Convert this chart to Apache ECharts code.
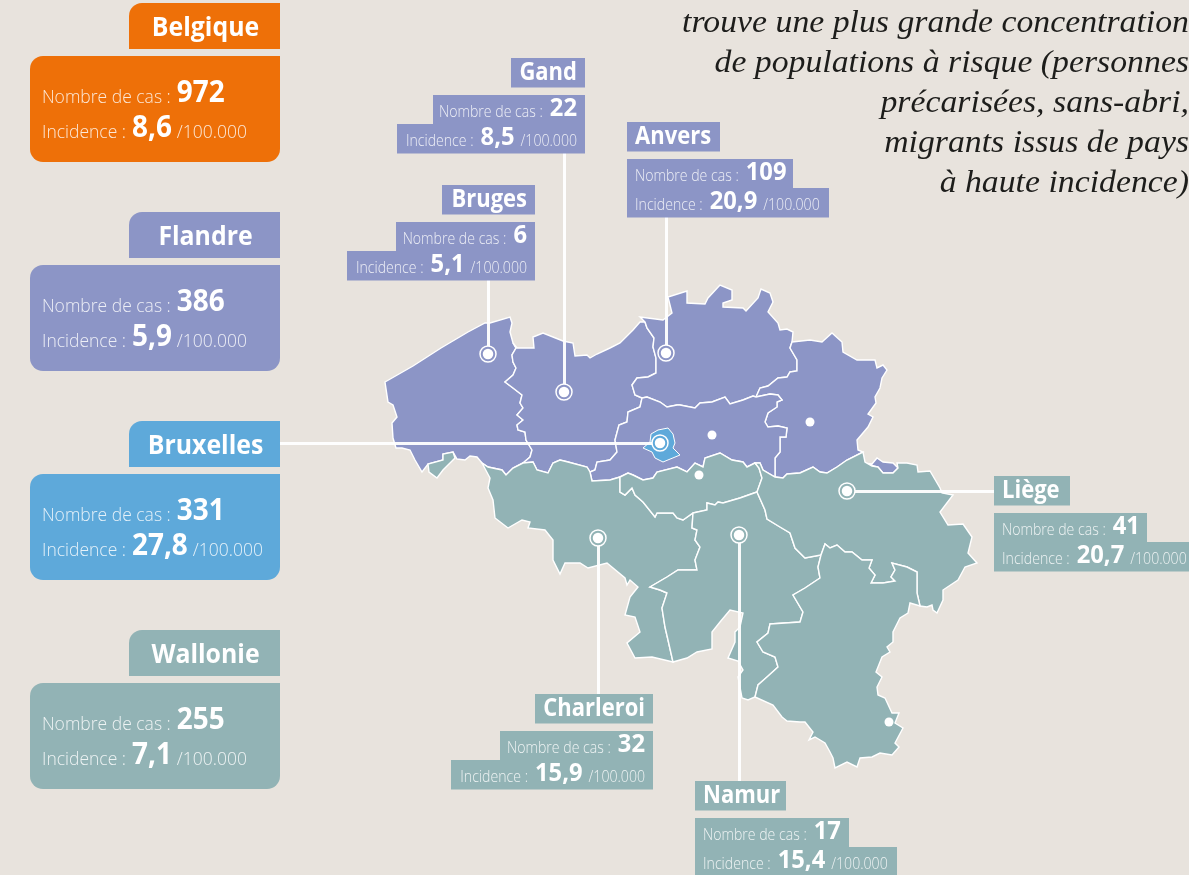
<!DOCTYPE html>
<html>
<head>
<meta charset="utf-8">
<title>Belgique - cas et incidence</title>
<script src="https://cdn.jsdelivr.net/npm/echarts@6/dist/echarts.min.js"></script>
<style>
html,body{margin:0;padding:0;background:#e8e3dd;overflow:hidden}
#chart{width:1189px;height:875px}
</style>
</head>
<body>
<div id="chart"></div>
<script>
// chiffres des encadres
var regionCards = ['Belgique','Flandre','Bruxelles','Wallonie'];
var regionCases = ['972','386','331','255'];
var regionIncidence = ['8,6','5,9','27,8','7,1'];
var cityCards = ['Gand','Bruges','Anvers','Liège','Charleroi','Namur'];
var cityCases = ['22','6','109','41','32','17'];
var cityIncidence = ['8,5','5,1','20,9','20,7','15,9','15,4'];
var introLines = ['trouve une plus grande concentration','de populations à risque (personnes','précarisées, sans-abri,','migrants issus de pays','à haute incidence)'];

// villes sur la carte
var ringCities = [['Bruges',488,354],['Gand',564,392],['Anvers',666,353],['Bruxelles',660,443],['Charleroi',598,538],['Namur',739,535],['Liège',847,491]];
var dotCities = [['Louvain',712,435],['Hasselt',810,422],['Wavre',699,475],['Arlon',889,722]];
// filets : ville -> encadre
var leaderEnds = [[488,280],[564,153],[666,217],[280,443],[598,694],[739,781],[994,491]];

// frontieres (repere de la carte)
var wfCoast = [[385,382],[413,366],[441,348],[468,332],[485,323],[490,323],[510,317],[512,323]];
var wfZeeland = [[512,323],[510,332],[513,343]];
var wfEf = [[513,343],[516,348],[512,355],[513,362],[516,368],[513,375],[505,382],[513,388],[522,395],[520,403],[523,408],[517,415],[523,420],[517,425],[518,430],[525,432],[526,440],[532,450],[530,457],[523,463]];
var wfHai = [[523,463],[513,468],[506,475],[502,470],[488,467],[482,463]];
var wfSouth = [[482,463],[477,457],[470,456],[465,460],[457,459],[453,452],[443,454],[443,460],[428,464],[422,472],[415,460],[410,450],[402,448],[396,448],[393,438],[392,423],[397,417],[393,405],[388,402],[385,382]];
var comines = [[428,464],[429,472],[437,478],[443,470],[450,463],[455,458],[453,452],[443,454],[443,460]];
var efNorth = [[513,343],[517,348],[534,348],[533,337],[543,333],[553,337],[563,341],[573,343],[575,356],[587,355],[590,358],[597,354],[610,348],[620,343],[633,330],[640,322],[645,322]];
var efAnt = [[645,322],[647,328],[654,338],[653,347],[656,358],[656,373],[648,377],[637,378],[632,385],[635,395],[642,398]];
var efFb = [[642,398],[640,407],[628,412],[627,422],[619,425],[615,440],[617,452],[610,460],[597,462],[595,470],[590,472]];
var efHai = [[590,472],[587,467],[568,462],[560,460],[553,463],[548,473],[537,470],[533,462],[523,463]];
var fbHai = [[590,472],[592,481],[610,480],[620,477]];
var fbWb = [[620,477],[628,473],[633,475],[643,480],[653,478],[657,472],[677,467],[687,472],[695,463],[703,467],[705,458],[720,453],[732,460],[743,462],[747,467],[755,463]];
var fbLiege = [[755,463],[760,463],[763,470],[775,477]];
var fbLim = [[775,477],[775,458],[780,452],[780,437],[786,437],[787,428],[778,426],[768,427],[765,422],[768,413],[777,407],[777,402],[782,400],[778,395],[770,394],[756,397]];
var fbAnt = [[756,397],[753,396],[743,400],[730,404],[725,397],[712,402],[700,403],[695,408],[680,405],[677,405],[667,407],[660,402],[647,397],[642,398]];
var antNorth = [[645,322],[640,317],[663,320],[672,313],[668,297],[687,291],[687,303],[705,304],[708,298],[720,285],[732,290],[732,300],[723,303],[723,307],[743,308],[746,311],[758,298],[761,289],[770,293],[773,302],[768,312],[778,323],[780,330],[787,329],[793,332],[792,342]];
var antLim = [[792,342],[790,348],[797,360],[797,371],[790,372],[787,377],[778,378],[768,386],[760,388],[756,397]];
var limNorth = [[792,342],[810,340],[822,342],[832,333],[842,342],[843,352],[857,360],[875,360],[877,368],[883,365],[887,370],[882,378],[880,388],[875,397],[876,403],[868,414],[873,417],[868,427],[857,440],[858,450],[863,452]];
var limLiege = [[863,452],[847,460],[837,467],[827,473],[820,472],[813,467],[800,473],[787,474],[783,478],[775,477]];
var voeren = [[863,463],[872,464],[877,458],[883,462],[893,463],[898,468],[893,473],[883,473],[878,467]];
var brussels = [[643,448],[650,442],[651,434],[658,430],[668,428],[673,434],[675,443],[673,448],[680,455],[663,462],[655,458],[652,452]];
var haiWest = [[482,463],[490,478],[488,488],[493,500],[495,518],[508,528],[522,520],[530,522],[528,528],[545,530],[553,540],[553,560],[560,574],[565,563],[580,563],[588,568],[607,563],[625,578],[627,585],[630,580],[638,587],[630,597],[625,615],[635,617],[640,632],[627,643],[635,658],[652,657],[673,662]];
var haiNam = [[673,662],[668,640],[665,627],[662,608],[667,593],[660,590],[650,587],[667,577],[678,570],[697,570],[695,560],[700,547],[695,540],[697,530],[692,528],[693,513]];
var haiWb = [[693,513],[683,520],[677,518],[673,513],[657,513],[655,517],[643,502],[635,495],[632,488],[625,495],[620,492],[620,477]];
var wbLiege = [[755,463],[759,468],[762,478],[757,492]];
var wbNam = [[693,513],[707,510],[707,503],[715,505],[718,502],[723,503],[740,498],[757,492]];
var namLiege = [[757,492],[765,510],[767,519],[780,527],[790,533],[795,548],[805,558],[821,555]];
var namLux = [[821,555],[818,567],[820,578],[805,588],[793,595],[803,612],[800,622],[770,624],[768,633],[757,642],[763,652],[775,657],[778,667],[767,677],[758,685],[755,697]];
var namSouth = [[755,697],[748,700],[742,698],[738,677],[743,670],[738,661],[728,658],[735,642],[735,632],[740,627],[743,613],[730,610],[720,622],[712,632],[712,649],[697,652],[687,658],[673,662]];
var luxLiege = [[821,555],[825,544],[830,548],[837,545],[845,552],[852,552],[862,560],[872,560],[869,568],[875,575],[871,583],[883,583],[895,581],[891,577],[895,570],[892,563],[907,567],[917,572],[917,593],[920,606]];
var luxEast = [[920,606],[910,603],[908,613],[900,618],[893,632],[893,642],[887,647],[890,652],[882,657],[876,672],[882,677],[877,687],[878,695],[885,698],[892,713],[899,713],[895,723],[903,728],[895,743],[899,747],[892,755],[880,753],[872,757],[860,758],[857,767],[847,762],[835,768],[833,758],[830,752],[825,743],[815,737],[809,740],[813,732],[805,722],[800,722],[787,721],[782,717],[773,705],[755,697]];
var liegeNE = [[863,452],[865,462],[872,466],[878,467],[883,473],[893,473],[898,468],[897,463],[907,463],[917,465],[918,472],[930,471],[940,488],[942,493],[953,495],[940,512],[948,525],[963,524],[972,537],[968,553],[977,563],[965,567],[958,580],[943,590],[943,600],[937,613],[933,610],[932,605],[927,607],[920,606]];

var FLANDRE = '#8c95c6', WALLONIE = '#92b3b5', BRUXELLES = '#5ea9da', ORANGE = '#ee7008', FOND = '#e8e3dd';

function rev(a){ return a.slice().reverse(); }
function ring(){
	var pts = [];
	for(var i=0;i<arguments.length;i++){ pts = pts.concat(arguments[i]); }
	pts.push(pts[0]);
	return pts;
}
function feature(name,rings){
	return {type:'Feature',properties:{name:name},geometry:{type:'MultiPolygon',coordinates:rings.map(function(r){return [r];})}};
}
var provinces = [
	['Flandre occidentale',[ring(wfCoast,wfZeeland,wfEf,wfHai,wfSouth)],FLANDRE],
	['Flandre orientale',[ring(efNorth,efAnt,efFb,efHai,rev(wfEf))],FLANDRE],
	['Anvers',[ring(antNorth,antLim,fbAnt,rev(efAnt))],FLANDRE],
	['Limbourg',[ring(limNorth,limLiege,fbLim,rev(antLim)),ring(voeren)],FLANDRE],
	['Brabant flamand',[ring(rev(fbAnt),rev(fbLim),rev(fbLiege),rev(fbWb),rev(fbHai),rev(efFb))],FLANDRE],
	['Hainaut',[ring(haiWest,haiNam,haiWb,rev(fbHai),efHai,wfHai),ring(comines)],WALLONIE],
	['Brabant wallon',[ring(fbWb,wbLiege,rev(wbNam),haiWb)],WALLONIE],
	['Namur',[ring(wbNam,namLiege,namLux,namSouth,haiNam)],WALLONIE],
	['Liège',[ring(fbLiege,rev(limLiege),liegeNE,rev(luxLiege),rev(namLiege),rev(wbLiege))],WALLONIE],
	['Luxembourg',[ring(luxLiege,luxEast,rev(namLux))],WALLONIE],
	['Bruxelles',[ring(brussels)],BRUXELLES]
];
echarts.registerMap('belgique',{type:'FeatureCollection',features:provinces.map(function(p){return feature(p[0],p[1]);})});

var SANS = '"Open Sans"';
var LABEL_COLOR = 'rgba(255,255,255,0.84)';
var BIG_ROW = {labelSize:17.5,labelScale:1,numSize:31,numScale:0.9,gap:6};
var SMALL_ROW = {labelSize:15.5,labelScale:0.91,numSize:25,numScale:0.95,gap:7};

var measureCtx = document.createElement('canvas').getContext('2d');
function textWidth(t,weight,size){
	measureCtx.font = weight+' '+size+'px '+SANS;
	return measureCtx.measureText(t).width;
}
// un morceau de texte pose sur sa ligne de base (Open Sans : milieu = base - 0.388 em)
function piece(x,baseline,t,weight,size,scale,color){
	return {type:'text',x:x,y:baseline-0.388*size,scaleX:scale,z:20,silent:true,style:{
		text:t,align:'left',verticalAlign:'middle',fontFamily:SANS,fontWeight:weight,fontSize:size,fill:color
	}};
}
// une ligne "libelle + chiffre + unite"
function pushRow(list,x,baseline,align,label,value,unit,st){
	var w1 = textWidth(label,300,st.labelSize)*st.labelScale;
	var w2 = textWidth(value,700,st.numSize)*st.numScale;
	var w3 = unit ? textWidth(unit,300,st.labelSize)*st.labelScale : 0;
	var total = w1+st.gap+w2+(unit?st.gap-1+w3:0);
	var cur = align=='right' ? x-total : x;
	list.push(piece(cur,baseline,label,300,st.labelSize,st.labelScale,LABEL_COLOR));
	cur += w1+st.gap;
	list.push(piece(cur,baseline,value,700,st.numSize,st.numScale,'#fff'));
	cur += w2+st.gap-1;
	if(unit){ list.push(piece(cur,baseline,unit,300,st.labelSize,st.labelScale,LABEL_COLOR)); }
}
function box(x,y,w,h,color,r){
	return {type:'rect',z:10,silent:true,shape:{x:x,y:y,width:w,height:h,r:r||0},style:{fill:color}};
}
function titleText(x,y,align,name,size,scale){
	return {type:'text',x:x,y:y,scaleX:scale,z:20,silent:true,style:{text:name,align:align,verticalAlign:'middle',fontFamily:SANS,fontWeight:700,fontSize:size,fill:'#fff'}};
}

var graphics = [];
// grands encadres a gauche
var regionColors = [ORANGE,FLANDRE,BRUXELLES,WALLONIE];
var regionTops = [3,212,421,630];
regionCards.forEach(function(name,i){
	var t = regionTops[i], c = regionColors[i];
	graphics.push(box(129,t,151,46,c,[13,0,0,0]));
	graphics.push(box(30,t+53,250,106,c,[13,0,13,13]));
	graphics.push(titleText(205.5,t+25,'center',name,27,0.92));
	pushRow(graphics,42,t+102,'left','Nombre de cas :',regionCases[i],'',BIG_ROW);
	pushRow(graphics,42,t+137,'left','Incidence :',regionIncidence[i],'/100.000',BIG_ROW);
});
// petits encadres des villes : titre, ligne 1, ligne 2 (x gauche, x droit, y)
var cityBoxes = [
	[[511,585,58],[433,585,95],[397,585,124]],
	[[442,535,185],[396,535,222],[347,535,251]],
	[[627,720,122],[627,793,159],[627,829,188]],
	[[994,1070,476],[994,1147,513],[994,1189,542]],
	[[535,653,694],[500,653,731],[451,653,760]],
	[[695,786,781],[695,849,818],[695,897,847]]
];
var cityAlign = ['right','right','left','left','right','left'];
var cityColors = [FLANDRE,FLANDRE,FLANDRE,WALLONIE,WALLONIE,WALLONIE];
cityCards.forEach(function(name,i){
	var b = cityBoxes[i], al = cityAlign[i], c = cityColors[i];
	var tx = al=='right' ? b[0][1]-8 : b[0][0]+8;
	graphics.push(box(b[0][0],b[0][2],b[0][1]-b[0][0],29.5,c));
	graphics.push(box(b[1][0],b[1][2],b[1][1]-b[1][0],29.5,c));
	graphics.push(box(b[2][0],b[2][2],b[2][1]-b[2][0],29.5,c));
	graphics.push(titleText(tx,b[0][2]+15,al,name,25,0.88));
	pushRow(graphics,tx,b[1][2]+24,al,'Nombre de cas :',cityCases[i],'',SMALL_ROW);
	pushRow(graphics,tx,b[2][2]+24,al,'Incidence :',cityIncidence[i],'/100.000',SMALL_ROW);
});
// texte d'introduction
introLines.forEach(function(line,i){
	graphics.push({type:'text',x:1189,y:23.7+i*40,scaleX:1.055,z:20,silent:true,style:{text:line,align:'right',verticalAlign:'middle',fontFamily:'"Liberation Serif"',fontStyle:'italic',fontSize:32,fill:'#1d1d1b'}});
});

var RING_R = 8;
var leaderData = ringCities.map(function(c,i){
	var e = leaderEnds[i], dx = e[0]-c[1], dy = e[1]-c[2], d = Math.sqrt(dx*dx+dy*dy);
	return {coords:[[c[1]+dx/d*RING_R,c[2]+dy/d*RING_R],e]};
});
function cityPoint(c){ return {name:c[0],value:[c[1],c[2]]}; }

var chart = echarts.init(document.getElementById('chart'),null,{renderer:'canvas'});
chart.setOption({
	backgroundColor:FOND,
	animation:false,
	tooltip:{show:false},
	geo:{
		map:'belgique',
		roam:false,
		silent:true,
		projection:{project:function(p){return p;},unproject:function(p){return p;}},
		boundingCoords:[[0,0],[1189,875]],
		left:0,top:0,width:1189,height:875,
		label:{show:false},
		itemStyle:{borderColor:'#fff',borderWidth:1.4,areaColor:FLANDRE},
		regions:provinces.map(function(p){return {name:p[0],itemStyle:{areaColor:p[2],borderColor:'#fff',borderWidth:p[2]==BRUXELLES?1:1.4}};})
	},
	series:[
		{type:'lines',coordinateSystem:'geo',polyline:false,silent:true,z:3,effect:{show:false},lineStyle:{color:'#fff',width:3,opacity:0.95,curveness:0},data:leaderData},
		{type:'scatter',coordinateSystem:'geo',silent:true,z:4,symbol:'circle',symbolSize:RING_R*2,itemStyle:{color:'transparent',borderColor:'#fff',borderWidth:1.5,opacity:1},data:ringCities.map(cityPoint)},
		{type:'scatter',coordinateSystem:'geo',silent:true,z:5,symbol:'circle',symbolSize:10.5,itemStyle:{color:'#fff',opacity:1},data:ringCities.map(cityPoint)},
		{type:'scatter',coordinateSystem:'geo',silent:true,z:5,symbol:'circle',symbolSize:9,itemStyle:{color:'#fff',opacity:1},data:dotCities.map(cityPoint)}
	],
	graphic:{elements:graphics}
});
</script>
</body>
</html>
